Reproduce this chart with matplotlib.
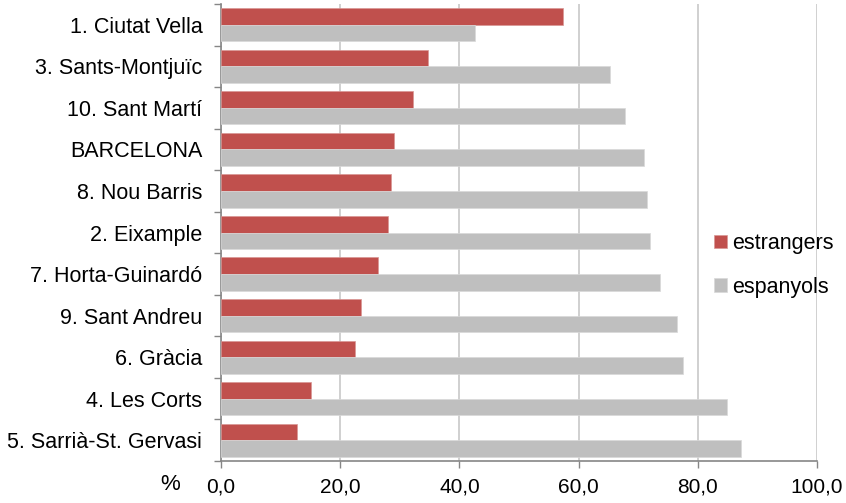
import matplotlib
matplotlib.use("Agg")
import matplotlib.pyplot as plt
import numpy as np

plt.rcParams['font.family'] = ['Liberation Sans', 'DejaVu Sans']

districts = ["1. Ciutat Vella", "3. Sants-Montjuïc", "10. Sant Martí", "BARCELONA",
             "8. Nou Barris", "2. Eixample", "7. Horta-Guinardó", "9. Sant Andreu",
             "6. Gràcia", "4. Les Corts", "5. Sarrià-St. Gervasi"]
estrangers = [57.3, 34.8, 32.2, 29.1, 28.5, 28.1, 26.4, 23.5, 22.5, 15.1, 12.7]
espanyols = [42.7, 65.2, 67.8, 70.9, 71.5, 71.9, 73.6, 76.5, 77.5, 84.9, 87.3]
xticks = [0, 20, 40, 60, 80, 100]
xticklabels = ["0,0", "20,0", "40,0", "60,0", "80,0", "100,0"]

fig = plt.figure(figsize=(8.46, 5.03), dpi=100)
ax = fig.add_axes([221/846, 1-461/503, (817-221)/846, (461-4)/503])

n = len(districts)
y = np.arange(n)
h = 0.4
ax.barh(y - h/2, estrangers, height=h, color='#C0504D', label='estrangers', zorder=3,
        edgecolor='#D99694', linewidth=0.5)
ax.barh(y + h/2, espanyols, height=h, color='#BFBFBF', label='espanyols', zorder=3,
        edgecolor='#D9D9D9', linewidth=0.5)

ax.set_ylim(n - 0.5, -0.5)
ax.set_xlim(0, 100)
ax.set_yticks(y)
ax.set_yticklabels(districts, fontsize=15.5)
ax.set_yticks(np.arange(n + 1) - 0.5, minor=True)
ax.tick_params(axis='y', which='major', length=0, pad=13.5)
ax.tick_params(axis='y', which='minor', length=5, color='#868686', width=1)
ax.set_xticks(xticks)
ax.set_xticklabels(xticklabels, fontsize=15)
ax.tick_params(axis='x', length=5, color='#868686', width=1, pad=7)

ax.grid(axis='x', color='#C8C8C8', linewidth=1.2, zorder=0)
for s in ['top', 'right']:
    ax.spines[s].set_visible(False)
ax.spines['left'].set_color('#868686')
ax.spines['bottom'].set_color('#868686')
ax.spines['left'].set_linewidth(1.2)
ax.spines['bottom'].set_linewidth(1.2)

fig.text(170/846, 1-484/503, "%", fontsize=16, ha='center', va='center')

leg = ax.legend(loc='upper left', bbox_to_anchor=((714-221)/596, 1-(233-4)/457), frameon=False,
                fontsize=15.5, handlelength=0.6, handleheight=0.6, handletextpad=0.25,
                labelspacing=1.05, borderaxespad=0, borderpad=0)

fig.savefig("out.png", dpi=100)
